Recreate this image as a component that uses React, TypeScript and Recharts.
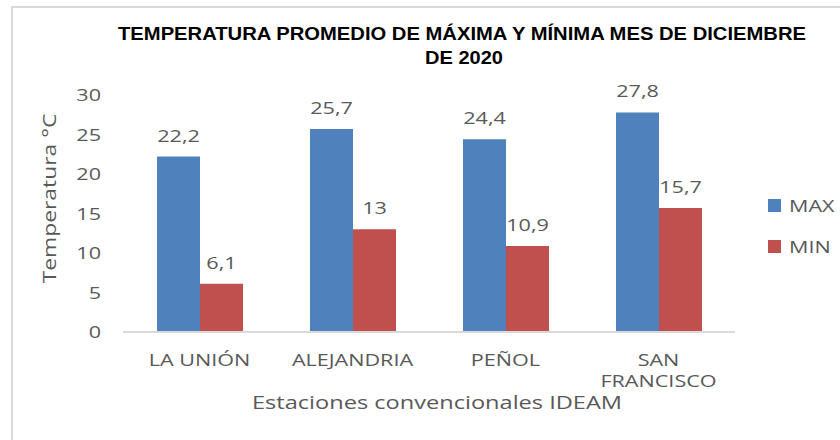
import React from 'react';
import { BarChart, Bar, XAxis, YAxis, Legend, LabelList, Label } from 'recharts';

const stations = ['LA UNIÓN', 'ALEJANDRIA', 'PEÑOL', 'SAN FRANCISCO'];
const maxValues = [22.2, 25.7, 24.4, 27.8];
const minValues = [6.1, 13, 10.9, 15.7];
const yTicks = [0, 5, 10, 15, 20, 25, 30];
const seriesNames = ['MAX', 'MIN'];
const seriesColors = ['#4F81BD', '#C0504D'];
const titleLines = ['TEMPERATURA PROMEDIO DE MÁXIMA Y MÍNIMA MES DE DICIEMBRE', 'DE 2020'];
const yTitle = 'Temperatura °C';
const xTitle = 'Estaciones convencionales IDEAM';

const data = stations.map((s, i) => ({ station: s, MAX: maxValues[i], MIN: minValues[i] }));

const FONT = '"Open Sans", sans-serif';
const TITLE_FONT = '"Liberation Sans Narrow", "Liberation Sans", Arial, sans-serif';
const TEXT = '#595959';
const SX = 1.27;
const FS = 17;

const fmt = (v: number) => String(v).replace('.', ',');

const wrapLabel = (s: string): string[] => (s.length > 10 && s.includes(' ') ? s.split(' ') : [s]);

function SText(props: any) {
  const { x, y, anchor = 'middle', children, size = FS, fill = TEXT, rotate = 0, sx = SX } = props;
  return (
    <text
      transform={`translate(${x},${y}) rotate(${rotate}) scale(${sx},1)`}
      textAnchor={anchor}
      fontFamily={FONT}
      fontSize={size}
      fill={fill}
    >
      {children}
    </text>
  );
}

function XTick(props: any) {
  const { x, y, payload } = props;
  const lines = wrapLabel(String(payload.value));
  return (
    <g>
      {lines.map((l, i) => (
        <SText key={i} x={x} y={y + 34 + i * 21}>
          {l}
        </SText>
      ))}
    </g>
  );
}

function YTick(props: any) {
  const { x, y, payload } = props;
  return (
    <SText x={x} y={y + 6} anchor="end">
      {payload.value}
    </SText>
  );
}

const renderLabel = (props: any) => {
  const { x, y, width, value } = props;
  return (
    <SText x={x + width / 2} y={y - 15}>
      {fmt(value)}
    </SText>
  );
};

const renderLegend = () => (
  <div style={{ fontFamily: FONT }}>
    {seriesNames.map((n, i) => (
      <div key={n} style={{ display: 'flex', alignItems: 'center', height: 13, marginBottom: 28 }}>
        <div style={{ width: 13, height: 13, background: seriesColors[i] }} />
        <span
          style={{
            marginLeft: 8,
            fontSize: FS,
            lineHeight: '13px',
            color: TEXT,
            display: 'inline-block',
            transform: `scaleX(${SX})`,
            transformOrigin: 'left center',
          }}
        >
          {n}
        </span>
      </div>
    ))}
  </div>
);

export default function App() {
  return (
    <div style={{ position: 'absolute', left: 0, top: 0, width: 840, height: 440, background: '#fff', overflow: 'hidden' }}>
      <div
        style={{
          position: 'absolute',
          left: 11,
          top: 6,
          width: 900,
          height: 500,
          borderLeft: '2px solid #d9d9d9',
          borderTop: '2px solid #d9d9d9',
        }}
      />
      <div style={{ position: 'absolute', left: 0, top: 0 }}>
        <BarChart
          width={840}
          height={440}
          data={data}
          margin={{ top: 95, right: 105, bottom: 78, left: 63 }}
          barGap={0}
          barSize={43}
        >
          <XAxis
            dataKey="station"
            height={30}
            axisLine={{ stroke: '#d9d9d9', strokeWidth: 2 }}
            tickLine={false}
            tickSize={0}
            tickMargin={0}
            interval={0}
            tick={<XTick />}
          >
            <Label
              content={(p: any) => {
                const vb = p.viewBox;
                return (
                  <SText x={vb.x + vb.width / 2 + 8} y={409} size={18} sx={1.31}>
                    {xTitle}
                  </SText>
                );
              }}
            />
          </XAxis>
          <YAxis
            domain={[0, 30]}
            ticks={yTicks}
            interval={0}
            width={60}
            axisLine={false}
            tickLine={false}
            tickSize={0}
            tickMargin={22}
            tick={<YTick />}
          >
            <Label
              content={(p: any) => {
                const vb = p.viewBox;
                return (
                  <SText x={vb.x - 7} y={vb.y + vb.height / 2 - 15} rotate={-90} size={18}>
                    {yTitle}
                  </SText>
                );
              }}
            />
          </YAxis>
          <Legend
            content={renderLegend}
            layout="horizontal"
            align="center"
            verticalAlign="middle"
            wrapperStyle={{ position: 'absolute', left: 768, top: 199, width: 80 }}
          />
          <Bar dataKey="MAX" name={seriesNames[0]} fill={seriesColors[0]} isAnimationActive={false}>
            <LabelList dataKey="MAX" content={renderLabel} />
          </Bar>
          <Bar dataKey="MIN" name={seriesNames[1]} fill={seriesColors[1]} isAnimationActive={false}>
            <LabelList dataKey="MIN" content={renderLabel} />
          </Bar>
        </BarChart>
      </div>
      <svg width={840} height={440} style={{ position: 'absolute', left: 0, top: 0, pointerEvents: 'none' }}>
        <text
          x={462}
          y={40}
          textAnchor="middle"
          fontFamily={TITLE_FONT}
          fontWeight="bold"
          fontSize={18}
          fill="#000"
          textLength={688}
          lengthAdjust="spacingAndGlyphs"
        >
          {titleLines[0]}
        </text>
        <text
          x={464}
          y={64}
          textAnchor="middle"
          fontFamily={TITLE_FONT}
          fontWeight="bold"
          fontSize={18}
          fill="#000"
          textLength={78}
          lengthAdjust="spacingAndGlyphs"
        >
          {titleLines[1]}
        </text>
      </svg>
    </div>
  );
}
